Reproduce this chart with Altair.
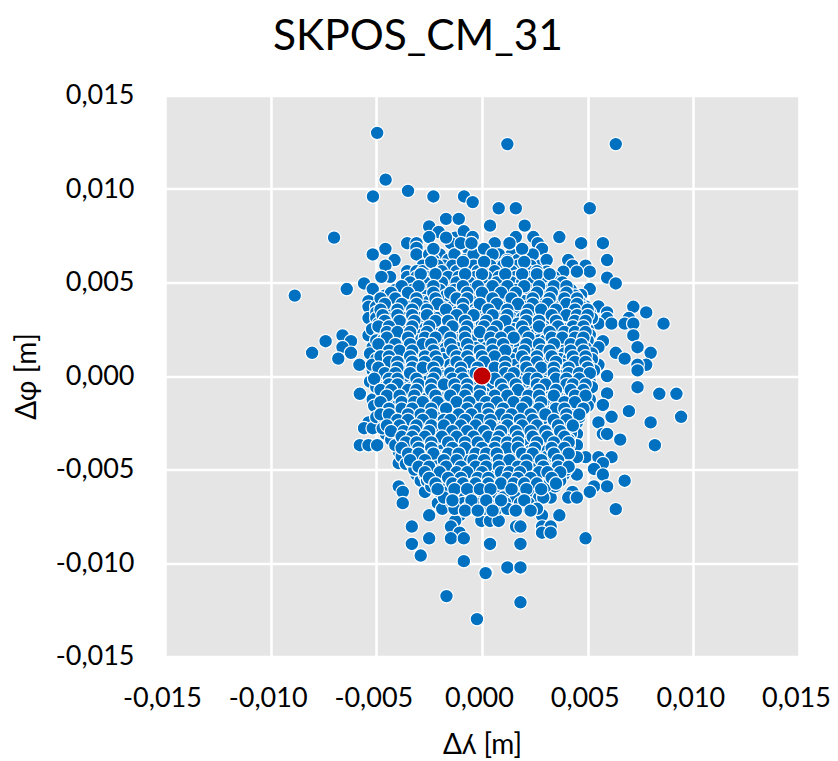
import altair as alt
import pandas as pd

TITLE = "SKPOS_CM_31"
X_TITLE = "Δʎ [m]"
Y_TITLE = "Δφ [m]"
TICKS = [-0.015, -0.010, -0.005, 0.0, 0.005, 0.010, 0.015]
CENTRE_X = [0.0]
CENTRE_Y = [0.0]

# Values below are in tenths of a millimetre.
OUTER_UL = [(-49.6,130),(-45.6,105),(-35,99),(-51.6,96),(-23,96),(-8.5,96),(-4.4,93),(-17,84),(-11,84),(-25,80),
 (-20.5,77),(-70,74),(-35.4,71),(-31,71),(-31,68.5),(-31,65),(-45.7,68),(-51.7,65),(-25,74.3),(-12.7,74),(-8.6,77.4),
 (-4.4,74.3),(-14.7,71),(-6.5,68),(-0.3,68),(-25,65),(-20,65),(-23,62),(-10.6,59),(-6.5,55.6),(-0.3,62),(-41.4,62),
 (-45.7,59),(-35.4,56),(-35.4,53),(-43.5,53),(-47.6,53),(-55.8,49.5),(-51.7,46.5),(-64,46.5),(-88.6,43),(-25,56),
 (-21,53),(-8.6,53),(-0.3,49.5),(-29,46.5),(-17,46.5),(-37.5,46.5),(-43.5,43),(-8.6,43),(-21,40),(-0.3,40),(-49.6,40),
 (-53.7,40),(-39.4,40),(-53.7,37),(-31,37),(-45.7,34),(-23,34),(-14.7,34),(-8.6,34),(-27,34),(-53.7,31),(-33,31),
 (-39.4,28),(-4.4,28),(-51.7,25),(-53.7,21.7),(-66,21.7),(-62,18.6),(-74,18.6),(-66,15.4),(-62,12.4),(-80.4,12.4),
 (-68,9.3),(-58,6),(-43.5,18.6),(-33,21.7),(-21,21.7),(-17,18.6),(-8.6,18.6),(-2.4,21.7),(-51.7,15.4),(-35.4,15.4),
 (-27,15.4),(-23,12.4),(-6.5,12.4),(-39.4,9.3),(-33,9.3),(-14.7,9.3),(-0.3,9.3),(-47.6,6),(-10.6,6),(-51.7,3),(-39.4,3),
 (-29,3),(-18.8,3),(-33,0),(-23,0),(-12.7,0),
 (-16,62),(-13,65),(-8,62),(-3,59),(-18,59),(-28,59),(-23,68),(-17,74),(-10,71),(-4,65),(2,59),(-31,56),(-14,56),(-5,71)]
OUTER_UR = [(12,124),(63.3,124),(7.9,89.7),(16,89.7),(51,89.7),(3.8,80.4),(20.2,80.4),(16,74.3),(24.3,74.3),(36.6,74.3),
 (46.9,71),(57.2,71),(26.4,71),(28.4,68),(6,71),(59.2,62),(40.8,62),(42.8,59),(49,59),(51,55.8),(38.5,55.8),(44.9,55.8),
 (59.2,52.6),(63.3,49.5),(51,46.5),(38.7,46.5),(46.9,43.3),(32.5,43.3),(26.4,49.5),(32.5,49.5),(26.4,59),(30.6,62),
 (30.6,55.8),(20.2,65),(14,65),(8,65),(3.8,62),(12,62),(18.2,55.8),(12,52.6),(-0.2,49.5),(7.9,43.3),(16,40.2),(26.4,40.2),
 (49,37.2),(55.1,37.2),(71.6,37),(77.7,34),(59.2,34),(69.5,31),(59.2,31),(44.9,28),(55.1,28),(61.3,28),(67.5,28),(71.6,28),
 (85.9,28),(34.6,31),(22.3,31),(12,31),(26.4,28),(1.7,28),(71.6,21.7),(57.2,18.6),(55.1,15.4),(73.6,15.4),(79.8,12.4),
 (63.3,12.4),(67.5,9.3),(77.7,6),(73.6,6),(73.6,3),(55.1,6),(59.1,0),(49,12.4),(42.8,15.4),(32.5,21.7),(22.3,18.6),(14,18.6),
 (3.8,21.7),(28.4,15.4),(3.8,12.4),(20.2,9.3),(34.6,6),(28.4,6),(14,3),(22.3,3),(40.8,3),
 (9,59),(17,62),(22,59),(1,68),(5,65),(24,65),(19,68),(13,71)]
OUTER_LL = [(-57.8,-9.5),(-51.7,-12.5),(-45.5,-15.5),(-39.4,-12.5),(-31,-12.5),(-23,-3),(-14.7,-6),(-8.6,-3),(-21,-15.5),
 (-4.4,-15.5),(-31,-18.8),(-14.7,-18.8),(-43.5,-6.3),(-53.7,-24.8),(-55.8,-27.9),(-51.7,-27.9),(-45.5,-31),(-57.8,-37),
 (-53.7,-37),(-49.6,-37),(-37.5,-24.8),(-27,-24.8),(-16.8,-24.8),(-8.6,-27.9),(-16.8,-31),(-37.5,-34),(-31,-37),(-2.4,-34),
 (-39.4,-40.4),(-25,-40.4),(-14.7,-37),(-10.6,-40.4),(-2.4,-43.4),(-29,-43.4),(-39.4,-46.6),(-23,-49.7),(-6.5,-49.7),
 (-31,-52.7),(-16.8,-52.7),(-29,-56),(-23,-56),(-8.6,-56),(-2.4,-56),(-39.4,-59),(-37.5,-62),(-27,-62),(-10.6,-62),(2,-62),
 (-6.5,-62),(-37.5,-68),(-16.8,-65),(-20.9,-68),(-0.3,-68),(-4.4,-71),(-18.8,-71),(-25,-74.5),(-10.6,-74.5),(-12.7,-77.5),
 (2,-74.5),(-0.3,-77.5),(-33.2,-80.5),(-14.7,-80.5),(-10.6,-83.8),(-14.7,-86.8),(-8.6,-86.8),(-25,-86.8),(-33.2,-89.8),
 (3.8,-89.8),(-29,-96),(-8.6,-99),(2,-105),(-16.8,-117.7),(-2.4,-130)]
OUTER_LR = [(59.2,0),(73.6,-6),(83.9,-9.5),(92,-9.5),(59.2,-9.3),(51,-3),(51,-12.5),(57.2,-15.5),(69.5,-18.8),(61.3,-21.8),
 (94.2,-21.8),(55.1,-24.8),(79.8,-24.8),(57.2,-31),(59.2,-31),(65.4,-34),(81.8,-37),(44.9,-24.8),(44.9,-31),(44.9,-37),
 (49,-43.4),(44.9,-43.4),(55.1,-43.4),(61.3,-43.4),(57.2,-46.6),(53,-49.7),(57.2,-52.7),(67.5,-56),(53,-59),(59.2,-59),
 (51,-62),(44.9,-52.7),(38.7,-52.7),(30.5,-49.7),(34.6,-46.6),(38.7,-46.6),(42.8,-62),(40.8,-65),(44.9,-65),(32.5,-65),
 (63.3,-71.2),(24.3,-68),(14,-68),(7.9,-68),(22.3,-71.2),(28.4,-74.5),(36.6,-74.5),(3.8,-77.5),(7.9,-77.5),(16.1,-80.5),
 (18.2,-80.5),(28.4,-80.5),(32.5,-80.5),(28.4,-83.8),(32.5,-83.8),(49,-86.8),(3.8,-89.8),(18.2,-89.8),(12,-102.4),(18.2,-102.4),
 (1.7,-105.4),(18.2,-121),(34.6,-59),(28.4,-59),(20.2,-52.7),(12,-46.6),(14,-40.4),(26.4,-43.4),(26.4,-40.4),(36.6,-31),
 (32.5,-34),(24.3,-34),(28.4,-27.9),(10,-31),(3.8,-24.8),(20.2,-21.8),(26.4,-21.8),(38.7,-27.9),(6,-12.5),(20.2,-12.5),
 (32.5,-12.5),(46.9,-15.5),(10,-6.3),(28.4,-6.3),(36.6,-3),(40.8,-6.3),(14,0),(22.3,3),(6,-49.7),(10,-56),(7.9,-62),(1.7,-62),
 (24.3,-56),(22.3,-65)]

CORE_Y = [59,56,53,50,46,43,40,37,34,31,28,25,22,19,15,12,9,6,3,0,-3,-6,-9,-12,-16,-19,-22,-25,-28,-31,-34,-37,-40,-43,-47,-50,-53,-56,-59,-62,-65,-68,-71]
CORE_X = [
 [-21,-14,-4,4,10,17,23],
 [-28,-19,-12,-2,6,14,22,26],
 [-31,-26,-16,-11,-3,2,8,16,22,29,34],
 [-34,-27,-19,-12,-6,0,7,14,19,24,35,38],
 [-41,-33,-25,-20,-13,-5,3,10,16,22,29,36,42],
 [-46,-39,-32,-26,-17,-12,-4,3,12,19,23,29,37,42,44],
 [-47,-43,-36,-28,-25,-15,-10,-5,3,11,20,30,34,41,46],
 [-50,-44,-40,-34,-27,-19,-14,-5,1,9,14,21,27,33,37,43,47],
 [-50,-43,-37,-30,-24,-18,-12,-3,5,9,17,25,30,37,42,47,51],
 [-50,-45,-37,-29,-21,-15,-6,2,7,14,19,28,38,42,48,52],
 [-49,-44,-35,-30,-24,-19,-11,0,5,10,17,20,32,38,41,49],
 [-52,-47,-41,-36,-28,-22,-16,-12,-6,3,8,15,23,29,34,39,46,50],
 [-48,-42,-38,-29,-24,-14,-11,-4,7,11,17,25,28,37,41,46,51],
 [-50,-47,-38,-30,-25,-20,-12,-5,1,7,11,18,27,30,36,40,46,50],
 [-47,-42,-39,-31,-21,-17,-12,-3,2,7,12,18,24,33,37,45,49],
 [-53,-47,-42,-36,-30,-26,-18,-11,-3,1,8,14,17,24,30,35,39,46,52],
 [-50,-46,-37,-29,-24,-18,-9,-4,3,8,14,24,30,37,41,47,52],
 [-52,-43,-37,-31,-25,-20,-15,-5,-2,5,9,16,24,32,38,44,50],
 [-47,-44,-35,-25,-21,-14,-8,-4,4,9,18,26,31,36,44,47,53],
 [-50,-45,-38,-28,-18,-7,3,8,18,27,31,37,44,48],
 [-53,-48,-42,-36,-29,-26,-17,-10,-5,3,7,12,17,24,29,33,42,47],
 [-50,-46,-38,-33,-27,-21,-10,-5,2,5,14,20,24,32,37,45,52],
 [-47,-42,-36,-29,-24,-17,-12,-6,1,8,13,18,24,30,36,40,46],
 [-47,-43,-35,-26,-19,-10,-4,2,10,16,25,28,37,41,47],
 [-51,-40,-34,-27,-24,-15,-10,-1,4,8,13,17,24,31,35,41,50],
 [-47,-42,-37,-26,-21,-9,-3,1,6,11,16,24,29,33,38,43],
 [-50,-44,-38,-33,-27,-22,-17,-12,-6,-1,9,14,23,29,33,39,46],
 [-46,-41,-33,-30,-21,-13,-6,-2,7,11,17,22,32,37,42],
 [-47,-41,-36,-30,-25,-20,-13,-4,2,6,14,20,24,33,42],
 [-41,-34,-29,-24,-21,-11,-5,0,5,14,19,28,33,42],
 [-43,-33,-27,-22,-19,-11,-6,1,5,14,19,28,36,41],
 [-41,-37,-26,-21,-18,-9,-5,4,9,16,21,31,36,41],
 [-36,-32,-29,-19,-15,-6,1,6,10,18,23,31,37],
 [-38,-34,-26,-20,-17,-13,-7,3,8,15,22,31,36,40],
 [-36,-33,-27,-21,-15,-12,-3,3,6,15,20,24,29],
 [-32,-28,-19,-14,-10,-2,4,10,15,25,35,40],
 [-27,-22,-20,-12,-5,1,7,15,24,29,33],
 [-26,-19,-14,-5,3,6,14,19,32,37],
 [-24,-17,-13,-6,0,5,12,17,22,30],
 [-20,-16,-3,6,12,18,24],
 [-18,-12,-8,1,5,10,16,27,29],
 [-14,-9,-3,3,11,18,22],
 [-13,-7,1,7,12,26],
]
# Further marks in the packed middle, between the rows above.
FILL_Y = [61,54.5,48,44.5,41.5,38.5,35.5,32.5,29.5,26.5,23.5,20.5,17,13.5,10.5,7.5,4.5,1.5,-1.5,-4.5,-7.5,-10.5,-14,-17.5,-20.5,-23.5,-26.5,-29.5,-32.5,-35.5,-38.5,-41.5,-45,-48.5,-51.5,-54.5,-57.5,-60.5,-66.5,-72]
FILL_X = [
 [-24,-9,1,12,20],
 [-29,-22,-8,0,11,19,26,32],
 [-38,-30,-23,-9,-2,5,12,20,27,34,40],
 [-43,-35,-23,-15,-7,0,9,16,26,33,40],
 [-48,-41,-31,-22,-12,-7,5,14,24,32,39,45],
 [-46,-38,-31,-21,-9,-1,7,17,24,31,40,45],
 [-48,-40,-33,-26,-17,-9,3,12,22,28,35,44,50],
 [-47,-40,-33,-26,-12,-4,5,12,21,33,40,45,50],
 [-46,-39,-32,-22,-16,-8,2,11,21,27,35,44,49],
 [-49,-44,-33,-25,-14,-7,1,7,19,27,36,43,48],
 [-45,-40,-34,-26,-18,-8,-1,5,13,20,32,39,44,49],
 [-45,-35,-27,-22,-15,-8,4,9,15,22,33,38,44,48],
 [-49,-41,-34,-28,-24,-15,-7,5,10,21,27,34,42,47],
 [-44,-39,-33,-23,-14,-6,-1,5,11,20,28,32,42,48],
 [-48,-44,-34,-27,-22,-12,-7,0,6,19,26,33,43,49],
 [-44,-40,-33,-27,-21,-12,-6,1,11,21,26,35,44,49],
 [-49,-40,-33,-28,-23,-10,-2,6,11,21,28,34,41,50],
 [-46,-41,-34,-22,-15,-10,-3,11,15,23,34,41,46,51],
 [-51,-44,-40,-31,-23,-14,-9,6,13,22,26,35,40,46],
 [-44,-40,-30,-24,-18,-13,-7,9,16,26,30,40,43,49],
 [-48,-43,-35,-31,-24,-12,-7,-1,10,17,27,35,42,48],
 [-45,-39,-32,-22,-15,-8,-1,6,12,22,27,34,44,49],
 [-48,-38,-32,-28,-21,-12,-6,2,7,15,21,28,39,44],
 [-44,-38,-33,-24,-17,-7,-1,3,10,19,27,35,39,48],
 [-48,-44,-35,-29,-24,-11,-5,3,9,14,23,30,40,46],
 [-40,-35,-28,-18,-15,-8,-1,4,12,18,24,34,40],
 [-45,-39,-31,-24,-18,-10,-3,4,12,19,26,36,43],
 [-43,-37,-32,-25,-14,-7,1,9,16,23,30,37],
 [-38,-33,-27,-19,-12,-4,3,8,17,24,31,39],
 [-36,-31,-24,-16,-8,-2,7,12,17,26,34,41],
 [-38,-30,-24,-14,-8,0,6,12,17,25,33,39],
 [-35,-30,-23,-16,-11,-3,2,7,19,24,34,41],
 [-34,-27,-18,-12,-4,1,8,13,21,28,36],
 [-30,-25,-17,-10,-3,2,8,17,21,29,36,41],
 [-27,-20,-12,-7,0,9,13,18,27,31,37],
 [-25,-16,-10,-2,3,12,17,23,33],
 [-22,-14,-9,-3,3,9,15,20,26,35],
 [-21,-13,-7,-1,4,14,21,28],
 [-14,-5,2,9,20],
 [-8,-2,5,16,23],
]

pairs = OUTER_UL + OUTER_UR + OUTER_LL + OUTER_LR
for y_val, row in zip(CORE_Y, CORE_X):
    pairs = pairs + [(v, y_val) for v in row]
for y_val, row in zip(FILL_Y, FILL_X):
    pairs = pairs + [(v, y_val) for v in row]

df = pd.DataFrame({"x": [p[0] / 10000 for p in pairs], "y": [p[1] / 10000 for p in pairs]})
centre = pd.DataFrame({"x": CENTRE_X, "y": CENTRE_Y})

FONT = "Lato"
LABEL = "replace(replace(format(datum.value,'.3f'),'.',','),'\u2212','-')"
sx = alt.Scale(domain=[-0.015, 0.015], nice=False, zero=False)
sy = alt.Scale(domain=[-0.015, 0.015], nice=False, zero=False)

def axis(title, pad, offset, shift):
    return alt.Axis(title=title, values=TICKS, labelExpr=LABEL, grid=True, gridColor="#FFFFFF", gridWidth=2.5,
                    gridOpacity=1, domain=False, ticks=False, labelFont=FONT, labelFontSize=27, labelColor="#000000",
                    labelPadding=pad, labelOffset=shift, titleFont=FONT, titleFontSize=28, titleFontWeight="normal",
                    titleColor="#000000", titlePadding=offset, labelOverlap=False, labelFlush=False)

points = alt.Chart(df).mark_circle(size=185, color="#0070C0", opacity=1, stroke="#FFFFFF", strokeWidth=1.2).encode(
    x=alt.X("x:Q", scale=sx, axis=axis(X_TITLE, 29, 20, -3)),
    y=alt.Y("y:Q", scale=sy, axis=axis(Y_TITLE, 31, 14, 0)),
)
red = alt.Chart(centre).mark_circle(size=330, color="#C00000", opacity=1, stroke="#FFFFFF", strokeWidth=1.2).encode(
    x=alt.X("x:Q", scale=sx), y=alt.Y("y:Q", scale=sy))

chart = (points + red).properties(
    width=634, height=561,
    title=alt.TitleParams(TITLE, font=FONT, fontSize=42.5, fontWeight="normal", color="#000000",
                          anchor="middle", dx=-64, offset=23),
    autosize=alt.AutoSizeParams(type="none"),
    padding={"left": 157, "top": 87.5, "right": 31, "bottom": 104},
).configure_view(fill="#E5E5E5", stroke=None)

chart.save("out.html", embed_options={"renderer": "svg", "actions": False})
